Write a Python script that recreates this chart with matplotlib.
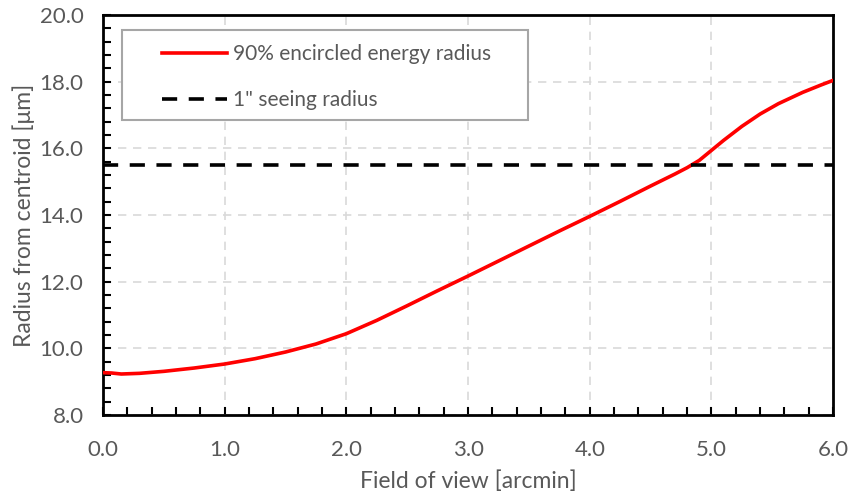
import matplotlib
matplotlib.use("Agg")
import matplotlib.pyplot as plt
from matplotlib.ticker import MultipleLocator, FormatStrFormatter
from matplotlib.patches import Rectangle

fov = [0.0, 0.07, 0.15, 0.3, 0.5, 0.75, 1.0, 1.25, 1.5, 1.75, 2.0, 2.25, 2.5, 2.75, 3.0,
       3.25, 3.5, 3.75, 4.0, 4.25, 4.5, 4.7, 4.8, 4.9, 5.0, 5.1, 5.25, 5.4, 5.55, 5.75, 5.9, 6.0]
ee90 = [9.27, 9.26, 9.23, 9.25, 9.31, 9.41, 9.53, 9.69, 9.89, 10.13, 10.44, 10.84, 11.28,
        11.73, 12.17, 12.62, 13.07, 13.52, 13.96, 14.41, 14.87, 15.23, 15.42, 15.64,
        15.94, 16.24, 16.66, 17.03, 17.34, 17.68, 17.90, 18.04]
seeing = 15.5

plt.rcParams['font.family'] = ['Lato', 'DejaVu Sans']
gray = '#595959'

fig = plt.figure(figsize=(8.5, 4.95), dpi=100)
ax = fig.add_axes([0.1212, 0.1616, 0.859, 0.8081])

ax.plot(fov, ee90, color='#ff0000', lw=2.6, label='90% encircled energy radius', zorder=3)
ax.axhline(seeing, color='black', lw=2.6, ls=(0, (4.2, 3.2)), label='1" seeing radius', zorder=3)

ax.set_xlim(0, 6)
ax.set_ylim(8, 20)
ax.xaxis.set_major_locator(MultipleLocator(1))
ax.xaxis.set_minor_locator(MultipleLocator(0.2))
ax.yaxis.set_major_locator(MultipleLocator(2))
ax.yaxis.set_minor_locator(MultipleLocator(0.4))
ax.xaxis.set_major_formatter(FormatStrFormatter('%.1f'))
ax.yaxis.set_major_formatter(FormatStrFormatter('%.1f'))

ax.grid(True, which='major', color='#d9d9d9', ls=(0, (5, 4)), lw=1.2, zorder=0)
for s in ax.spines.values():
    s.set_linewidth(2)
    s.set_color('black')

ax.tick_params(which='both', direction='in', color='black', width=1.5, length=6,
               labelsize=16, labelcolor=gray)
ax.tick_params(axis='x', which='both', pad=18)
ax.tick_params(axis='y', which='both', pad=14)

ax.set_xlabel('Field of view [arcmin]', fontsize=16.5, color=gray, labelpad=7.5)
ax.set_ylabel('Radius from centroid [μm]', fontsize=16.5, color=gray, labelpad=3)

ax.add_patch(Rectangle((0.026, 0.7375), 0.556, 0.225, transform=ax.transAxes,
                       facecolor='white', edgecolor='#a6a6a6', lw=1.5, zorder=4))
leg = ax.legend(loc='upper left', bbox_to_anchor=(0.0808, 0.927), fontsize=15,
                frameon=False, handlelength=3.1, handletextpad=0.3, borderpad=0,
                labelspacing=1.25, borderaxespad=0)
leg.set_zorder(5)
for t in leg.get_texts():
    t.set_color(gray)

fig.savefig('out.png', dpi=100)
